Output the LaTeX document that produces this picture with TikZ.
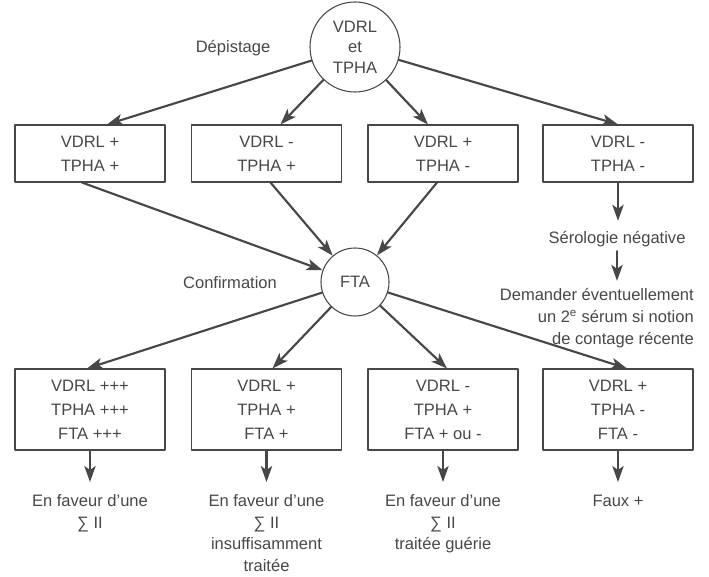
\documentclass[tikz,border=0pt]{standalone}
\usepackage{fontspec}
\setmainfont{Liberation Sans}
\usetikzlibrary{arrows.meta}
\begin{document}
\begin{tikzpicture}[x=0.75pt, y=-0.75pt, font=\fontsize{12.4}{18}\selectfont, line join=round, line cap=round,
		>={Stealth[length=12pt,width=8.5pt,inset=3pt]}, color=black!72,
		boite/.style={draw, line width=0.8pt, minimum width=112.5pt, align=center},
		rond/.style={draw, circle, line width=0.8pt, inner sep=0pt, align=center},
		fleche/.style={->, line width=1.6pt},
		texte/.style={align=center, font=\fontsize{12.4}{16.2}\selectfont}]
	\useasboundingbox (0,0) rectangle (709,577);
	% depistage
	\node[rond, minimum size=67.5pt, font=\fontsize{12.4}{15.5}\selectfont] (D) at (355,47) {VDRL\\et\\TPHA};
	\node (Ld) at (233,48) {Dépistage};
	\foreach \n/\x/\t in {A1/90/{VDRL +\\TPHA +}, A2/266.5/{VDRL -\\TPHA +}, A3/443/{VDRL +\\TPHA -}, A4/618/{VDRL -\\TPHA -}}
	\node[boite, minimum height=42.75pt] (\n) at (\x,153.5) {\t};
	\foreach \n/\s in {A1/12.75pt, A2/10.5pt, A3/-11.25pt, A4/0pt}
	\draw[fleche] (D) -- ([xshift=\s]\n.north);
	% confirmation
	\node[rond, minimum size=51pt] (F) at (355,282) {FTA};
	\node (Lc) at (230,283) {Confirmation};
	\foreach \n/\s in {A1/-6pt, A2/3pt, A3/-4.5pt}
	\draw[fleche] ([xshift=\s]\n.south) -- (F);
	% serologie negative
	\node[anchor=base] (S) at (617,243) {Sérologie négative};
	\node[anchor=north east, align=right, font=\fontsize{12.4}{16.5}\selectfont] (Q) at (698.5,283.5) {Demander éventuellement\\un 2\textsuperscript{e} sérum si notion\\de contage récente};
	\draw[fleche, shorten >=4pt] (A4.south) -- (A4.south |- S.north);
	\draw[fleche, shorten >=2pt] (S.south) -- (S.south |- Q.north);
	% resultats
	\foreach \n/\x/\t in {B1/90/{VDRL +++\\TPHA +++\\FTA +++}, B2/266.5/{VDRL +\\TPHA +\\FTA +}, B3/443/{VDRL -\\TPHA +\\FTA + ou -}, B4/618/{VDRL +\\TPHA -\\FTA -}}
	\node[boite, minimum height=60.75pt] (\n) at (\x,409.5) {\t};
	\foreach \n/\s in {B1/-2.25pt, B2/4.5pt, B3/3pt, B4/6.75pt}
	\draw[fleche] (F) -- ([xshift=\s]\n.north);
	\foreach \n/\t in {1/{En faveur d’une\\∑ II}, 2/{En faveur d’une\\∑ II\\insuffisamment\\traitée}, 3/{En faveur d’une\\∑ II\\traitée guérie}, 4/{Faux +}}{
		\node[texte, anchor=north] (T\n) at (B\n.south |- 0,490) {\t};
		\draw[fleche, shorten >=6pt] (B\n) -- (T\n);
	}
\end{tikzpicture}
\end{document}
